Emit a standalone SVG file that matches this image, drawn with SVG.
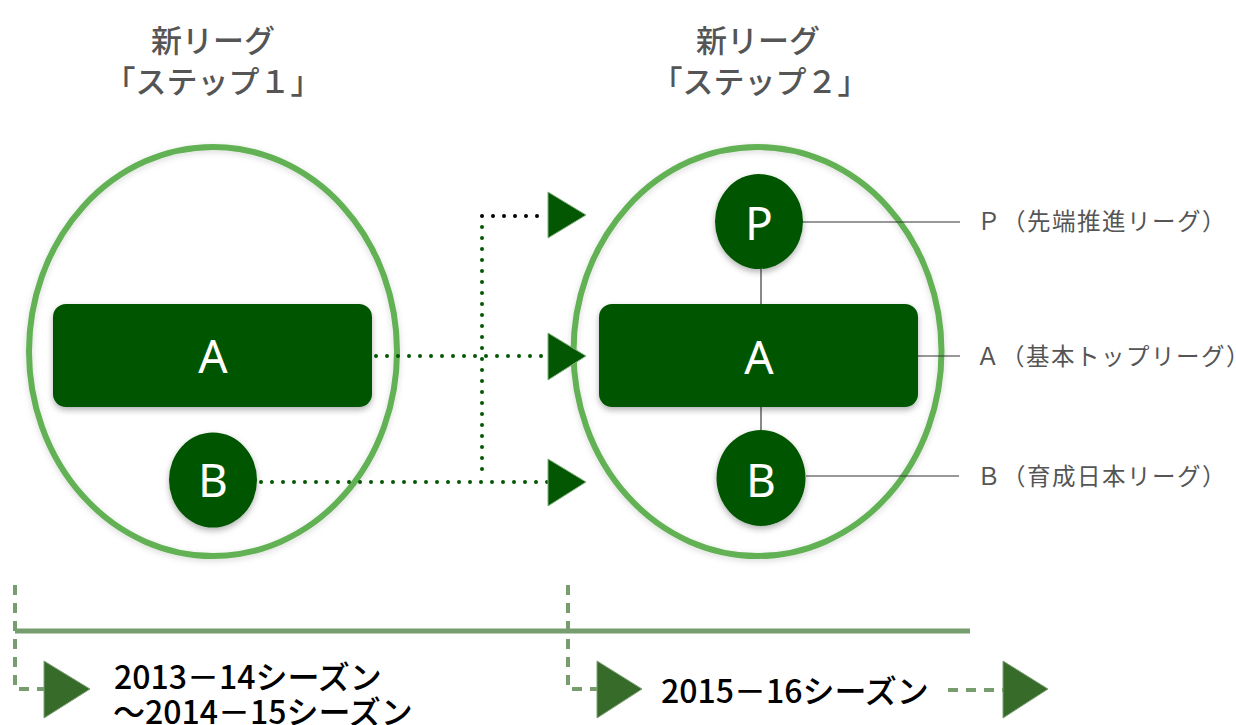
<svg xmlns="http://www.w3.org/2000/svg" width="1236" height="725" viewBox="0 0 1236 725">
<defs>
<filter id="sh" x="-20%" y="-20%" width="140%" height="150%">
<feDropShadow dx="0" dy="3" stdDeviation="3" flood-color="#000" flood-opacity="0.3"/>
</filter>
<filter id="sh2" x="-10%" y="-10%" width="120%" height="120%">
<feDropShadow dx="0" dy="2" stdDeviation="3" flood-color="#000" flood-opacity="0.15"/>
</filter>
</defs>
<style>
.title{font-family:"Noto Sans CJK JP","Noto Sans",sans-serif;font-size:31px;fill:#555;font-weight:500;text-anchor:middle}
.ring{fill:none;stroke:#62b254;stroke-width:6}
.node{fill:#035703}
.nlab{font-family:"Noto Sans","Liberation Sans",sans-serif;font-size:46px;fill:#fff;text-anchor:middle}
.lab{font-family:"Noto Sans CJK JP",sans-serif;font-size:23.5px;fill:#555;letter-spacing:1.5px}
.season{font-family:"Noto Sans CJK JP",sans-serif;font-size:32px;fill:#000;font-weight:500}
.dotg{fill:none;stroke:#035703;stroke-width:4;stroke-linecap:round;stroke-dasharray:0 11}
.dotk{fill:none;stroke:#000;stroke-width:4;stroke-linecap:round;stroke-dasharray:0 11}
.arr{fill:#035703;stroke:#7fb27a;stroke-width:1}
.tl{fill:none;stroke:#779d6e;stroke-width:5}
.tld{fill:none;stroke:#779d6e;stroke-width:4;stroke-dasharray:10 8}
.tarr{fill:#366b2a;stroke:#7fa077;stroke-width:1}
.thin{stroke:#333;stroke-width:1.2;fill:none}
.gray{stroke:#888;stroke-width:2;fill:none}
</style>

<g id="title1">
<text class="title" x="213" y="52">新リーグ</text>
<text class="title" x="213" y="93">「ステップ１」</text>
</g>
<g id="title2">
<text class="title" x="758" y="52">新リーグ</text>
<text class="title" x="760" y="93">「ステップ２」</text>
</g>

<g id="step1">
<ellipse class="ring" cx="213" cy="351.5" rx="184" ry="204.5" filter="url(#sh2)"/>
</g>
<g id="step2">
<ellipse class="ring" cx="757.5" cy="351.5" rx="184" ry="204.5" filter="url(#sh2)"/>
</g>

<g id="connectors">
<path class="dotk" d="M482 216 H548"/>
<path class="dotg" d="M482 227 V476"/>
<path class="dotg" d="M376 356 H548"/>
<path class="dotg" d="M261 482 H548"/>
<polygon class="arr" points="548,192 586,215 548,238"/>
<polygon class="arr" points="548,333 586,356 548,380"/>
<polygon class="arr" points="548,459 586,482 548,506"/>
<path class="gray" d="M761 268 V306"/>
<path class="gray" d="M761 406 V432"/>
<path class="thin" d="M803 222 H960"/>
<path class="thin" d="M918 356 H960"/>
<path class="thin" d="M806 476 H959"/>
</g>

<g id="nodeA1">
<rect class="node" x="53" y="304" width="319" height="103" rx="13" filter="url(#sh)"/>
<text class="nlab" x="213" y="373">A</text>
</g>
<g id="nodeB1">
<ellipse class="node" cx="213" cy="480" rx="44" ry="47.5" filter="url(#sh)"/>
<text class="nlab" x="213" y="497">B</text>
</g>
<g id="nodeP2">
<ellipse class="node" cx="759" cy="221.5" rx="44" ry="47.5" filter="url(#sh)"/>
<text class="nlab" x="759" y="240">P</text>
</g>
<g id="nodeA2">
<rect class="node" x="599" y="304" width="319" height="103" rx="13" filter="url(#sh)"/>
<text class="nlab" x="759" y="374">A</text>
</g>
<g id="nodeB2">
<ellipse class="node" cx="761" cy="478" rx="44.5" ry="48" filter="url(#sh)"/>
<text class="nlab" x="761" y="497">B</text>
</g>

<g id="labels">
<text class="lab" x="977" y="230">Ｐ（先端推進リーグ）</text>
<text class="lab" x="976" y="365">Ａ（基本トップリーグ）</text>
<text class="lab" x="977" y="485">Ｂ（育成日本リーグ）</text>
</g>

<g id="timeline">
<path class="tl" d="M15 631 H970"/>
<path class="tld" d="M15 585 V689 H44"/>
<polygon class="tarr" points="44,661 90,689 44,718"/>
<path class="tld" d="M568 585 V689 H597"/>
<polygon class="tarr" points="597,661 642,689 597,718"/>
<path class="tld" d="M948 690 H1003"/>
<polygon class="tarr" points="1003,661 1048,689 1003,718"/>
</g>

<g id="seasons">
<text class="season" x="114" y="689">2013－14シーズン</text>
<text class="season" x="113" y="724">〜2014－15シーズン</text>
<text class="season" x="661" y="703">2015－16シーズン</text>
</g>
</svg>
